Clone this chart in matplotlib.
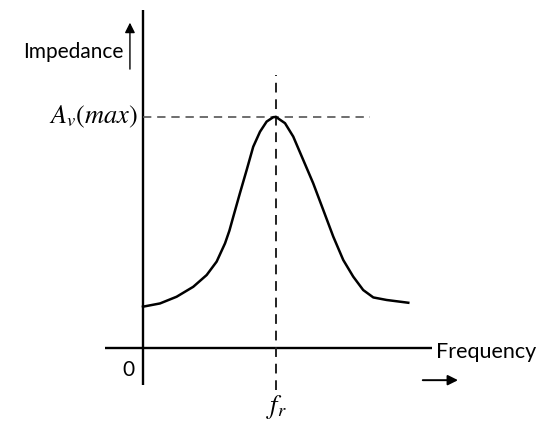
import numpy as np
import matplotlib.pyplot as plt

plt.rcParams['mathtext.fontset'] = 'stix'

# frequency relative to f_r, impedance relative to the peak
freq = [0.0, 0.128, 0.253, 0.378, 0.479, 0.554, 0.617, 0.650, 0.679, 0.729,
        0.780, 0.829, 0.880, 0.930, 0.980, 1.0, 1.068, 1.130, 1.205,
        1.280, 1.356, 1.431, 1.506, 1.581, 1.656, 1.732, 1.832, 1.995]
imped = [0.179, 0.193, 0.222, 0.265, 0.316, 0.374, 0.453, 0.508, 0.568, 0.670,
         0.771, 0.871, 0.936, 0.980, 0.999, 1.0, 0.973, 0.915, 0.814,
         0.713, 0.597, 0.482, 0.381, 0.309, 0.251, 0.219, 0.208, 0.196]
x_label = "Frequency"
y_label = "Impedance"
peak_label = r"$A_v(max)$"
fr_label = r"$f_r$"

fig = plt.figure(figsize=(5.45, 4.22), dpi=100)
ax = fig.add_axes([0, 0, 1, 1])
ax.set_xlim(-1.075, 3.023)
ax.set_ylim(-0.320, 1.506)
ax.axis("off")

# axes
ax.plot([-0.286, 2.173], [0, 0], color="black", lw=1.7, solid_capstyle="butt")
ax.plot([0, 0], [-0.160, 1.463], color="black", lw=1.7, solid_capstyle="butt")

# guide lines
ax.plot([1, 1], [-0.182, 1.182], color="#222222", lw=1.4, dashes=(5, 3.5))
ax.plot([0, 1.707], [1, 1], color="#555555", lw=1.2, dashes=(5, 3.5))

# curve
ax.plot(freq, imped, color="black", lw=1.8, solid_joinstyle="round")

# labels
sans = "Lato"
ax.text(-0.150, 1.280, y_label, ha="right", va="center", fontsize=15, family=sans)
ax.text(-0.035, 1.0, peak_label, ha="right", va="center", fontsize=19)
ax.text(-0.113, -0.095, "0", ha="center", va="center", fontsize=15, family=sans)
ax.text(2.205, -0.017, x_label, ha="left", va="center", fontsize=15.5, family=sans)
ax.text(1.0, -0.255, fr_label, ha="center", va="center", fontsize=19)

# direction arrows
ax.annotate("", xy=(-0.098, 1.420), xytext=(-0.098, 1.195),
            arrowprops=dict(arrowstyle="-|>", color="black", lw=1.0,
                            mutation_scale=15))
ax.annotate("", xy=(2.390, -0.139), xytext=(2.083, -0.139),
            arrowprops=dict(arrowstyle="-|>", color="black", lw=1.4,
                            mutation_scale=15))

fig.savefig("out.png", dpi=100)
